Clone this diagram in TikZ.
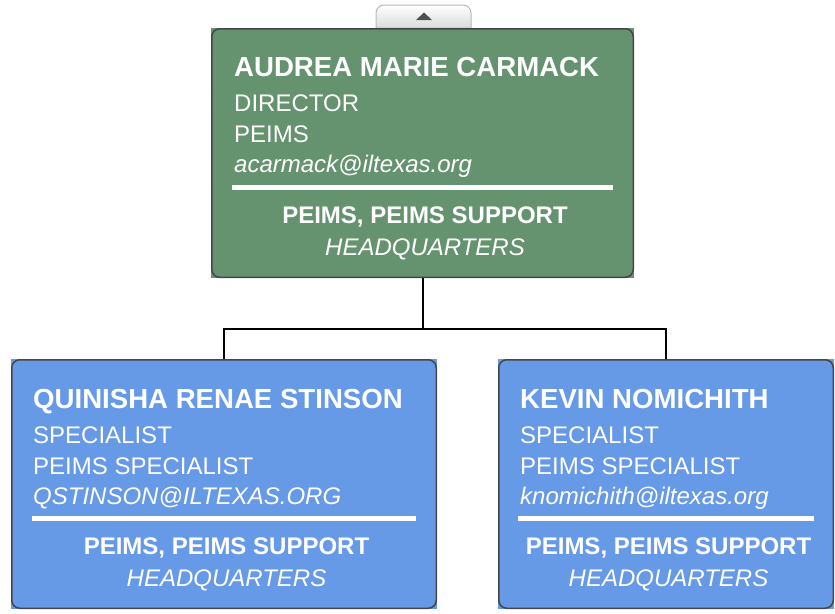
\documentclass[tikz,border=0pt]{standalone}
\usepackage{fontspec}
\setmainfont{Liberation Sans}
\definecolor{boxgreen}{RGB}{101,147,111}
\definecolor{boxblue}{RGB}{102,153,230}
\definecolor{boxborder}{RGB}{70,70,72}
\definecolor{tabborder}{RGB}{185,185,185}
\definecolor{tabtri}{RGB}{80,80,80}
\begin{document}
\begin{tikzpicture}[x=1pt,y=-1pt,
  card/.style={anchor=north west, inner sep=0pt, outer sep=0pt, draw=none},
  cardborder/.style={draw=boxborder, line width=1.5pt, rounded corners=8pt},
  nametxt/.style={anchor=base west, inner sep=0pt, text=white, font=\fontsize{27.6}{28}\selectfont\bfseries},
  linetxt/.style={anchor=base west, inner sep=0pt, text=white, font=\fontsize{24}{24}\selectfont},
  mailtxt/.style={anchor=base west, inner sep=0pt, text=white, font=\fontsize{24}{24}\selectfont\itshape},
  depttxt/.style={anchor=base, inner sep=0pt, text=white, xshift=2.5pt, font=\fontsize{24}{24}\selectfont\bfseries},
  loctxt/.style={anchor=base, inner sep=0pt, text=white, xshift=2.5pt, font=\fontsize{24}{24}\selectfont\itshape},
  sep/.style={draw=white, line width=4.5pt},
  conn/.style={draw=black, line width=2pt}]
\useasboundingbox (0,0) rectangle (835,613);

% tab
\path[draw=tabborder, line width=1pt, top color=white, bottom color=black!14]
  (376,28) [rounded corners=8pt] -- (376,5) -- (471,5) [sharp corners] -- (471,28) -- cycle;
\fill[tabtri] (416,20) -- (432,20) -- (424,12.5) -- cycle;

% top card
\node[card, fill=boxgreen, minimum width=423pt, minimum height=250pt] (top) at (211,28) {};
\draw[cardborder] ([shift={(0.75pt,-0.75pt)}]top.north west) rectangle ([shift={(-0.75pt,0.75pt)}]top.south east);
\node[nametxt] (topname) at (234,76) {AUDREA MARIE CARMACK};
\node[linetxt] (toptitle) at (234,111) {DIRECTOR};
\node[linetxt] (topdept) at (234,142) {PEIMS};
\node[mailtxt] (topmail) at (234,172) {acarmack@iltexas.org};
\draw[sep] (232,187.5) -- (613,187.5);
\node[depttxt] (topunit) at (top.center |- 0,223) {PEIMS, PEIMS SUPPORT};
\node[loctxt] (toploc) at (top.center |- 0,255) {HEADQUARTERS};

% left card
\node[card, fill=boxblue, minimum width=426pt, minimum height=250pt] (left) at (11,359) {};
\draw[cardborder] ([shift={(0.75pt,-0.75pt)}]left.north west) rectangle ([shift={(-0.75pt,0.75pt)}]left.south east);
\node[nametxt] (leftname) at (33,408) {QUINISHA RENAE STINSON};
\node[linetxt] (lefttitle) at (33,443) {SPECIALIST};
\node[linetxt] (leftdept) at (33,474) {PEIMS SPECIALIST};
\node[mailtxt] (leftmail) at (33,504) {QSTINSON@ILTEXAS.ORG};
\draw[sep] (32,518.5) -- (416,518.5);
\node[depttxt] (leftunit) at (left.center |- 0,554) {PEIMS, PEIMS SUPPORT};
\node[loctxt] (leftloc) at (left.center |- 0,586) {HEADQUARTERS};

% right card
\node[card, fill=boxblue, minimum width=336pt, minimum height=250pt] (right) at (498,359) {};
\draw[cardborder] ([shift={(0.75pt,-0.75pt)}]right.north west) rectangle ([shift={(-0.75pt,0.75pt)}]right.south east);
\node[nametxt] (rightname) at (520,408) {KEVIN NOMICHITH};
\node[linetxt] (righttitle) at (520,443) {SPECIALIST};
\node[linetxt] (rightdept) at (520,474) {PEIMS SPECIALIST};
\node[mailtxt] (rightmail) at (520,504) {knomichith@iltexas.org};
\draw[sep] (518,518.5) -- (814,518.5);
\node[depttxt] (rightunit) at (right.center |- 0,554) {PEIMS, PEIMS SUPPORT};
\node[loctxt] (rightloc) at (right.center |- 0,586) {HEADQUARTERS};

% connectors
\draw[conn] (top.south) -- ++(0,51) coordinate (junction);
\draw[conn] (junction) -| (left.north);
\draw[conn] (junction) -| (right.north);
\end{tikzpicture}
\end{document}
